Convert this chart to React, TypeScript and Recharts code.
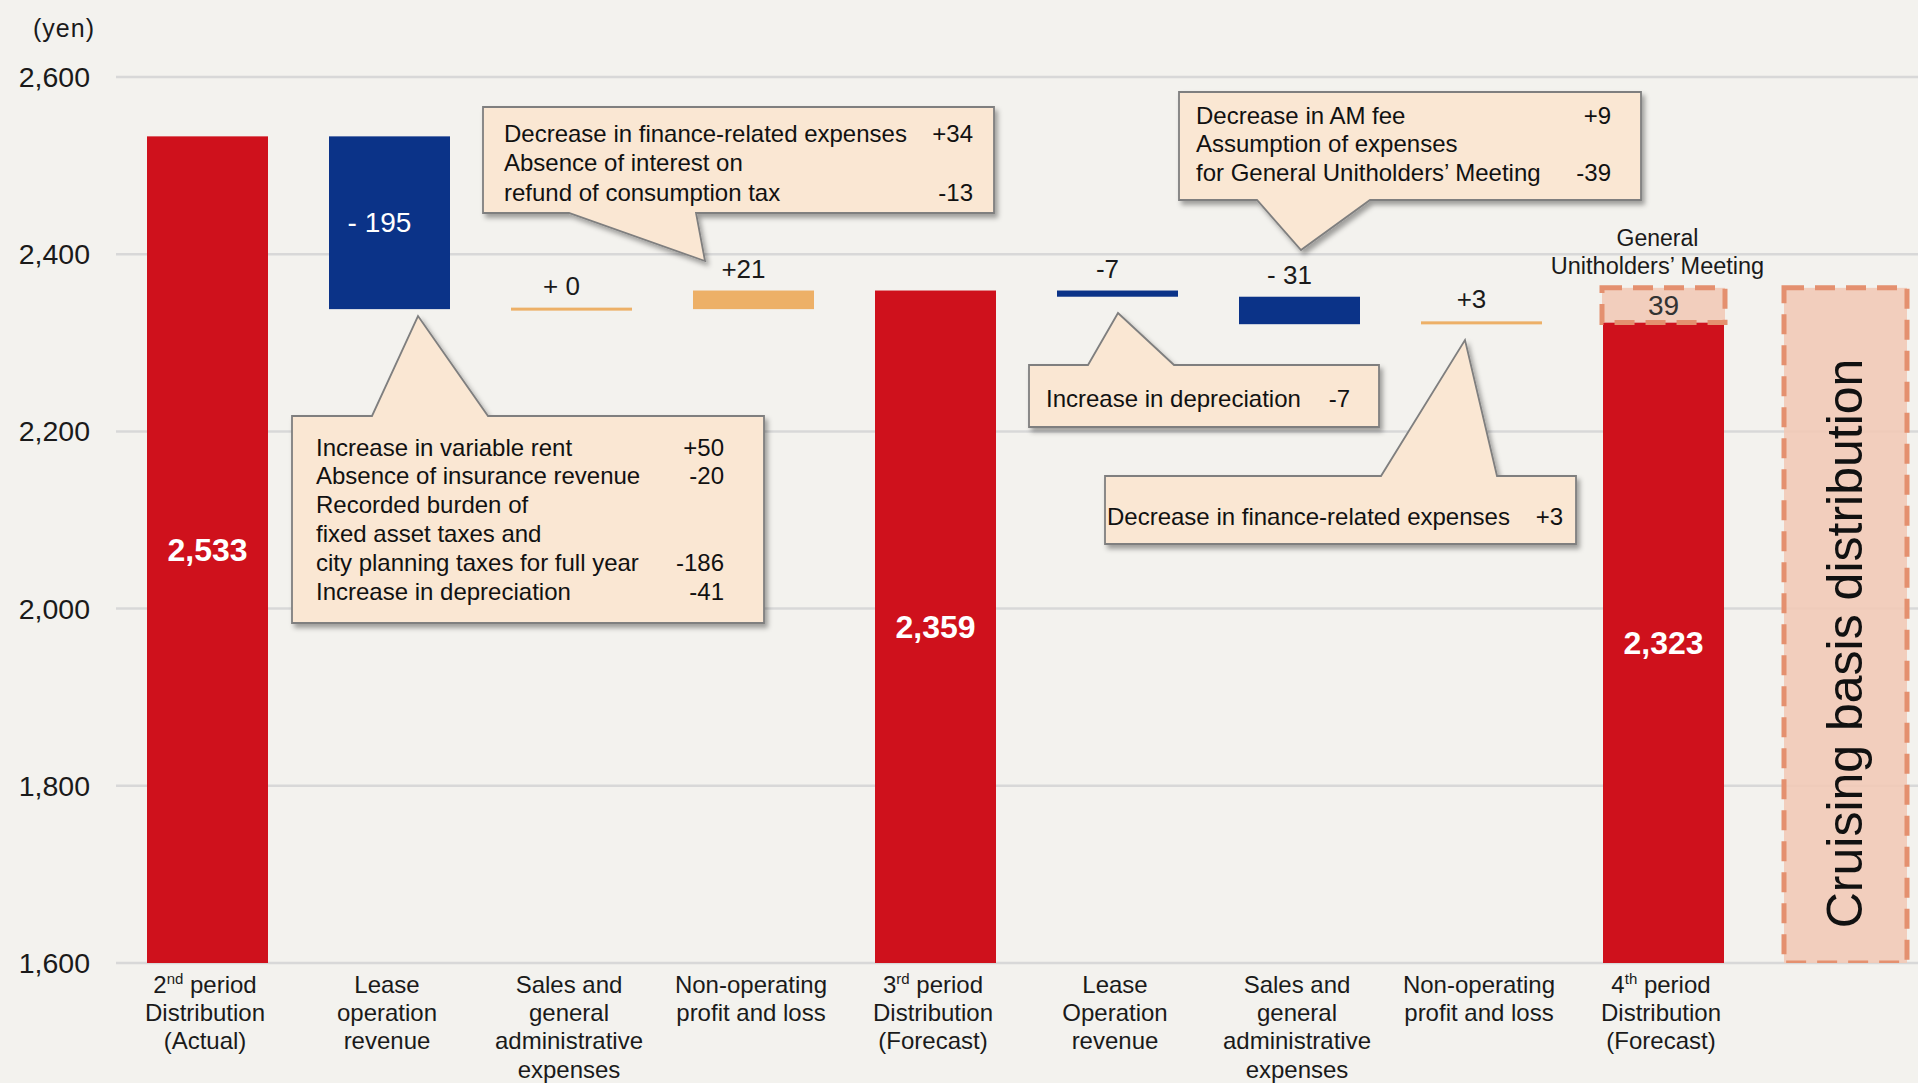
import React from 'react';
import {BarChart, Bar, XAxis, YAxis, CartesianGrid} from 'recharts';

// categories along the x axis ("\n" = line break, leading 2nd/3rd/4th get a superscript)
const categories = [
  '2nd period\nDistribution\n(Actual)',
  'Lease\noperation\nrevenue',
  'Sales and\ngeneral\nadministrative\nexpenses',
  'Non-operating\nprofit and loss',
  '3rd period\nDistribution\n(Forecast)',
  'Lease\nOperation\nrevenue',
  'Sales and\ngeneral\nadministrative\nexpenses',
  'Non-operating\nprofit and loss',
  '4th period\nDistribution\n(Forecast)',
  ''
];

// distribution per unit (yen)
const totals: (number | null)[] = [2533, null, null, null, 2359, null, null, null, 2323, null];
const changes: (number | null)[] = [null, -195, 0, 21, null, -7, -31, 3, null, null];
const valueLabels = ['2,533', '- 195', '+ 0', '+21', '2,359', '-7', '- 31', '+3', '2,323', ''];

const meetingCost = 39;
const meetingLabel = ['General', 'Unitholders\u2019 Meeting'];
const cruisingLabel = 'Cruising basis distribution';

const yTicks = [1600, 1800, 2000, 2200, 2400, 2600];
const AXIS_MIN = 1600;

const FONT = "'Liberation Sans', Arial, Helvetica, sans-serif";
const RED = '#CF111C';
const BLUE = '#0B3388';
const ORANGE = '#EDB067';
const DASH_FILL = '#F2CAB7';
const DASH_STROKE = '#E4906F';

// build the waterfall ranges
let running = 0;
const data = categories.map((name, i) => {
  let range: [number, number] | null = null;
  let kind = 'none';
  const total = totals[i];
  const change = changes[i];
  if (total != null) {
    range = [AXIS_MIN, total];
    running = total;
    kind = 'total';
  } else if (change != null) {
    const next = running + change;
    range = [Math.min(running, next), Math.max(running, next)];
    running = next;
    kind = change < 0 ? 'down' : 'up';
  }
  let extra: [number, number] | null = null;
  let extraKind = 'none';
  if (i === 8) {
    extra = [totals[8] as number, (totals[8] as number) + meetingCost];
    extraKind = 'meeting';
  }
  if (i === 9) {
    extra = [AXIS_MIN, (totals[8] as number) + meetingCost];
    extraKind = 'cruising';
  }
  return {id: i, name, range, extra, kind, extraKind};
});

// callouts (annotation boxes)
type Callout = {path: string; left: number; right: number; firstY: number; step: number; lines: [string, string][]};
const callouts: Callout[] = [
  {
    path: 'M483,107 L994,107 L994,213 L696,213 L705,261 L569,213 L483,213 Z',
    left: 504, right: 973, firstY: 133, step: 29.5,
    lines: [
      ['Decrease in finance-related expenses', '+34'],
      ['Absence of interest on', ''],
      ['refund of consumption tax', '-13']
    ]
  },
  {
    path: 'M292,416 L372,416 L418,316 L488,416 L764,416 L764,623 L292,623 Z',
    left: 316, right: 724, firstY: 447, step: 28.8,
    lines: [
      ['Increase in variable rent', '+50'],
      ['Absence of insurance revenue', '-20'],
      ['Recorded burden of', ''],
      ['fixed asset taxes and', ''],
      ['city planning taxes for full year', '-186'],
      ['Increase in depreciation', '-41']
    ]
  },
  {
    path: 'M1179,92 L1641,92 L1641,200 L1370,200 L1301,250 L1257,200 L1179,200 Z',
    left: 1196, right: 1611, firstY: 115, step: 28.5,
    lines: [
      ['Decrease in AM fee', '+9'],
      ['Assumption of expenses', ''],
      ['for General Unitholders\u2019 Meeting', '-39']
    ]
  },
  {
    path: 'M1029,365 L1088,365 L1118,313 L1174,365 L1379,365 L1379,427 L1029,427 Z',
    left: 1046, right: 1350, firstY: 398, step: 28,
    lines: [['Increase in depreciation', '-7']]
  },
  {
    path: 'M1105,476 L1381,476 L1465,340 L1497,476 L1576,476 L1576,544 L1105,544 Z',
    left: 1107, right: 1563, firstY: 516, step: 28,
    lines: [['Decrease in finance-related expenses', '+3']]
  }
];

const YTick = (props: any) => {
  const {x, y, payload} = props;
  return (
    <text x={x} y={y} textAnchor="end" dominantBaseline="central" fontSize={28.5} fill="#1a1a1a" fontFamily={FONT}>
      {Number(payload.value).toLocaleString('en-US')}
    </text>
  );
};

const XTick = (props: any) => {
  const {x, y, payload} = props;
  const lines = String(payload.value).split('\n').filter((l) => l !== '');
  return (
    <g>
      {lines.map((line, i) => {
        const m = line.match(/^(\d)(st|nd|rd|th)(.*)$/);
        return (
          <text key={i} x={x - 2} y={y + 22 + i * 28.2} textAnchor="middle" fontSize={24} fill="#1a1a1a" fontFamily={FONT}>
            {m ? (
              <>
                {m[1]}
                <tspan dy={-9} fontSize={15}>{m[2]}</tspan>
                <tspan dy={9}>{m[3]}</tspan>
              </>
            ) : (
              line
            )}
          </text>
        );
      })}
    </g>
  );
};

const WaterfallBar = (props: any) => {
  const {x, y, width, height, payload} = props;
  if (x == null || y == null || !Number.isFinite(y) || !Number.isFinite(height) || !payload) return null;
  const kind = payload.kind;
  if (!kind || kind === 'none') return null;
  const top = Math.min(y, y + height);
  const raw = Math.abs(height);
  const h = Math.max(raw, 3);
  const drawTop = raw < 3 ? top - (3 - raw) / 2 : top;
  const fill = kind === 'total' ? RED : kind === 'down' ? BLUE : ORANGE;
  const cx = x + width / 2;
  const label = valueLabels[payload.id];
  let text = null;
  if (kind === 'total') {
    text = (
      <text x={cx} y={top + raw / 2} textAnchor="middle" dominantBaseline="central" fontSize={32} fontWeight="bold" fill="#fff" fontFamily={FONT}>
        {label}
      </text>
    );
  } else if (raw > 60) {
    text = (
      <text x={cx - 10} y={top + raw / 2} textAnchor="middle" dominantBaseline="central" fontSize={28} fill="#fff" fontFamily={FONT}>
        {label}
      </text>
    );
  } else {
    text = (
      <text x={cx - 10} y={drawTop - 13} textAnchor="middle" fontSize={26} fill="#1a1a1a" fontFamily={FONT}>
        {label}
      </text>
    );
  }
  return (
    <g>
      <rect x={x} y={drawTop} width={width} height={h} fill={fill} />
      {text}
    </g>
  );
};

const DashedBar = (props: any) => {
  const {x, y, width, height, payload} = props;
  if (x == null || y == null || !Number.isFinite(y) || !Number.isFinite(height) || !payload) return null;
  const top = Math.min(y, y + height);
  const h = Math.abs(height);
  const cx = x + width / 2;
  const mid = top + h / 2 + 18;
  return (
    <g>
      <rect x={x} y={top} width={width} height={h} fill={DASH_FILL} fillOpacity={0.9} stroke={DASH_STROKE} strokeWidth={5} strokeDasharray="20 11" />
      {payload.extraKind === 'meeting' && (
        <>
          <text x={cx} y={top + h / 2} textAnchor="middle" dominantBaseline="central" fontSize={28} fill="#333" fontFamily={FONT}>
            {meetingCost}
          </text>
          <text x={cx - 6} y={top - 42} textAnchor="middle" fontSize={23} fill="#1a1a1a" fontFamily={FONT}>
            {meetingLabel[0]}
          </text>
          <text x={cx - 6} y={top - 14} textAnchor="middle" fontSize={23.5} fill="#1a1a1a" fontFamily={FONT}>
            {meetingLabel[1]}
          </text>
        </>
      )}
      {payload.extraKind === 'cruising' && (
        <text
          x={cx}
          y={mid}
          transform={`rotate(-90 ${cx} ${mid})`}
          textAnchor="middle"
          dominantBaseline="central"
          fontSize={50}
          fill="#111"
          fontFamily={FONT}
        >
          {cruisingLabel}
        </text>
      )}
    </g>
  );
};

export default function App() {
  return (
    <div style={{position: 'fixed', left: 0, top: 0, width: 1918, height: 1083, overflow: 'hidden', background: '#F3F2EE'}}>
      <BarChart width={1936} height={1083} data={data} margin={{top: 77, right: 0, bottom: 0, left: 0}}>
        <CartesianGrid xAxisId="main" vertical={false} stroke="#D8D8D8" strokeWidth={2.5} />
        <XAxis xAxisId="main" dataKey="name" interval={0} height={120} axisLine={false} tickLine={false} tick={<XTick />} />
        <XAxis xAxisId="overlay" dataKey="name" hide />
        <YAxis
          type="number"
          domain={[AXIS_MIN, 2600]}
          ticks={yTicks}
          allowDataOverflow
          width={116}
          axisLine={false}
          tickLine={false}
          tickMargin={20}
          tick={<YTick />}
        />
        <Bar xAxisId="main" dataKey="range" barSize={121} isAnimationActive={false} shape={<WaterfallBar />} />
        <Bar xAxisId="overlay" dataKey="extra" barSize={123} isAnimationActive={false} shape={<DashedBar />} />
      </BarChart>
      <svg width={1918} height={1083} style={{position: 'absolute', left: 0, top: 0, pointerEvents: 'none'}}>
        <defs>
          <filter id="shadow" x="-10%" y="-10%" width="130%" height="140%">
            <feDropShadow dx={3} dy={4} stdDeviation={2.5} floodColor="#000" floodOpacity={0.35} />
          </filter>
        </defs>
        <text x={33} y={28} dominantBaseline="central" fontSize={25} fill="#1a1a1a" fontFamily={FONT} letterSpacing={1}>
          (yen)
        </text>
        {callouts.map((c, ci) => (
          <g key={ci}>
            <path d={c.path} fill="#FAE7D3" stroke="#7f7f7f" strokeWidth={1.8} filter="url(#shadow)" />
            {c.lines.map(([left, right], li) => (
              <g key={li}>
                <text x={c.left} y={c.firstY + li * c.step} dominantBaseline="central" fontSize={24} fill="#111" fontFamily={FONT}>
                  {left}
                </text>
                {right && (
                  <text x={c.right} y={c.firstY + li * c.step} textAnchor="end" dominantBaseline="central" fontSize={24} fill="#111" fontFamily={FONT}>
                    {right}
                  </text>
                )}
              </g>
            ))}
          </g>
        ))}
      </svg>
    </div>
  );
}
